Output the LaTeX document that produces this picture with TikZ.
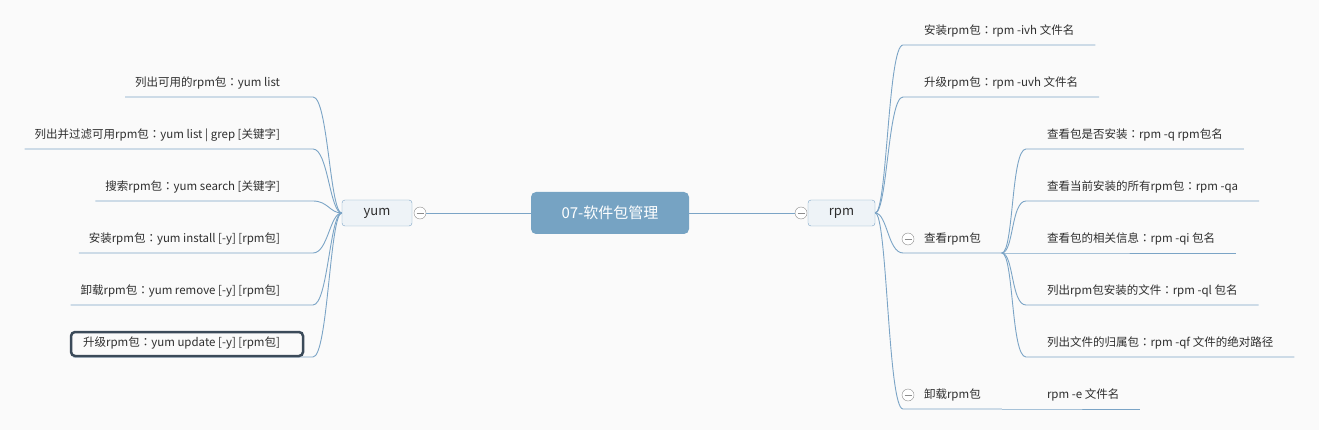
\documentclass[tikz,border=0pt]{standalone}
\usepackage{fontspec}
\setmainfont{Noto Sans CJK SC}
\newfontfamily\jpfont{Noto Sans CJK JP}
\newcommand{\fcolon}{{\jpfont ：}}
\usepackage{tikz}

\definecolor{bgcol}{HTML}{FAFAFA}
\definecolor{branch}{HTML}{7BA4C6}
\definecolor{rootfill}{HTML}{76A3C3}
\definecolor{subfill}{HTML}{EEF3F7}
\definecolor{foldgray}{HTML}{8C8C8C}
\definecolor{hilite}{HTML}{3B4A59}
\definecolor{txt}{HTML}{2E2E2E}

\begin{document}
\begin{tikzpicture}[x=1pt, y=-1pt,
  root/.style={fill=rootfill, rounded corners=5pt, minimum width=158pt, minimum height=42pt, text=white, font=\fontsize{15}{18}\selectfont},
  topic/.style={draw=branch, fill=subfill, rounded corners=3pt, minimum height=26pt, text=txt, font=\fontsize{13}{15}\selectfont},
  leaf/.style={minimum height=28pt, inner ysep=0pt, inner xsep=21pt, outer sep=0pt, text=txt, font=\fontsize{11.5}{13}\selectfont},
  leafL/.style={leaf, inner xsep=10pt, anchor=south east},
  leafR/.style={leaf, anchor=south west},
  fold/.style={circle, draw=foldgray, fill=white, minimum size=12pt, inner sep=0pt,
    path picture={\draw[foldgray] ([xshift=-3.5pt]path picture bounding box.center) -- ([xshift=3.5pt]path picture bounding box.center);}},
  bline/.style={draw=branch, line width=0.9pt}
]
\fill[bgcol] (0,0) rectangle (1319,430);
\useasboundingbox (0,0) rectangle (1319,430);

% centre
\node[root] (root) at (610,213) {07-软件包管理};
\node[topic, minimum width=70pt] (yum) at (377,213) {yum};
\node[topic, minimum width=67pt] (rpm) at (841.5,213) {rpm};
\node[fold] (yumfold) at (420,213) {};
\node[fold] (rpmfold) at (801,213) {};
\draw[bline] (yumfold) -- (root);
\draw[bline] (root) -- (rpmfold);

% yum side
\node[leafL] (y1) at (290,97) {列出可用的rpm包\fcolon yum list};
\node[leafL] (y2) at (290,149) {列出并过滤可用rpm包\fcolon yum list | grep [关键字]};
\node[leafL] (y3) at (290,201) {搜索rpm包\fcolon yum search [关键字]};
\node[leafL] (y4) at (290,253) {安装rpm包\fcolon yum install [-y] [rpm包]};
\node[leafL] (y5) at (290,305) {卸载rpm包\fcolon yum remove [-y] [rpm包]};
\node[leafL] (y6) at (290,357) {升级rpm包\fcolon yum update [-y] [rpm包]};
\coordinate (ey1) at (313,97);
\coordinate (ey2) at (313,149);
\coordinate (ey3) at (313,201);
\coordinate (ey4) at (313,253);
\coordinate (ey5) at (313,305);
\coordinate (ey6) at (313,357);
\foreach \n in {y1,y2,y3,y4,y5,y6}
  \draw[bline] (\n.south west) -- (e\n) .. controls +(15,0) and +(-12,0) .. (yum.west);
\draw[hilite, line width=2.5pt, rounded corners=4pt] ([xshift=-2pt,yshift=1pt]y6.south west) rectangle ([xshift=13pt,yshift=-3pt]y6.north east);

% rpm side
\node[leafR] (r1) at (903,45) {安装rpm包\fcolon rpm -ivh 文件名};
\node[leafR] (r2) at (903,97) {升级rpm包\fcolon rpm -uvh 文件名};
\node[leafR] (r3) at (903,253) {查看rpm包};
\node[leafR] (r4) at (903,409) {卸载rpm包};
\node[fold] (r3fold) at ([xshift=5pt]r3.west) {};
\node[fold] (r4fold) at ([xshift=5pt]r4.west) {};
\foreach \n in {r1,r2,r3,r4}
  \draw[bline] (rpm.east) .. controls +(12,0) and +(-15,0) .. (\n.south west) -- (\n.south east);

% 查看rpm包
\node[leafR] (q1) at (1026,149) {查看包是否安装\fcolon rpm -q rpm包名};
\node[leafR] (q2) at (1026,201) {查看当前安装的所有rpm包\fcolon rpm -qa};
\node[leafR] (q3) at (1026,253) {查看包的相关信息\fcolon rpm -qi 包名};
\node[leafR] (q4) at (1026,305) {列出rpm包安装的文件\fcolon rpm -ql 包名};
\node[leafR] (q5) at (1026,357) {列出文件的归属包\fcolon rpm -qf 文件的绝对路径};
\foreach \n in {q1,q2,q3,q4,q5}
  \draw[bline] (r3.south east) .. controls +(12,0) and +(-15,0) .. (\n.south west) -- (\n.south east);

% 卸载rpm包
\node[leafR] (e1) at (1026,409) {rpm -e 文件名};
\draw[bline] (r4.south east) -- (e1.south west) -- (e1.south east);
\end{tikzpicture}
\end{document}
